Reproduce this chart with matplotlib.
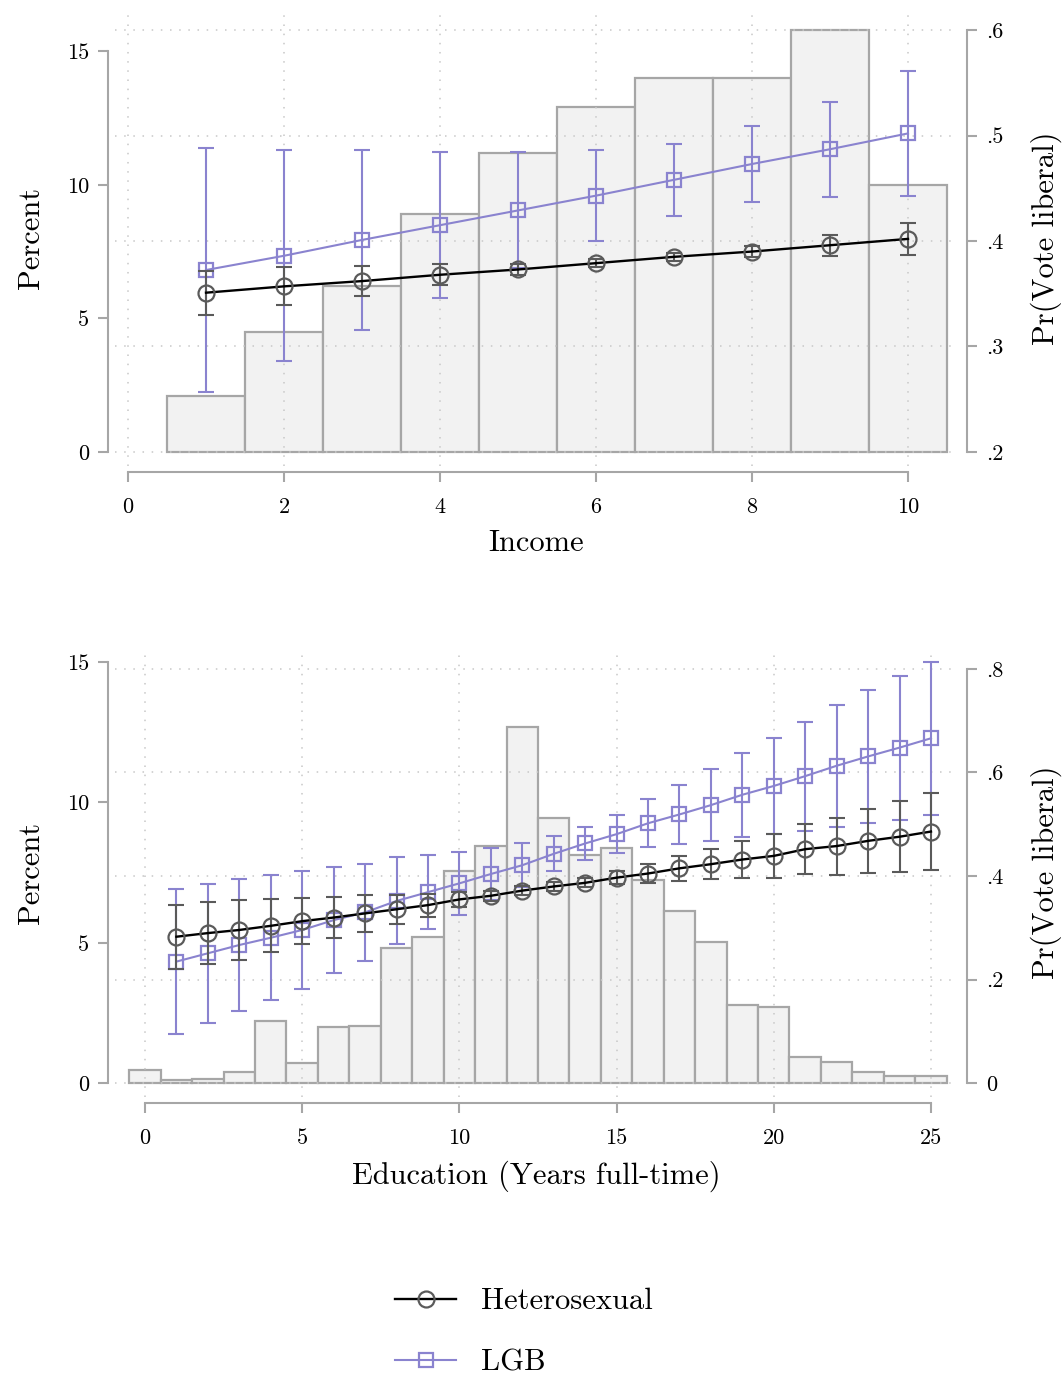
import matplotlib
matplotlib.use('Agg')
import matplotlib.pyplot as plt
from matplotlib.lines import Line2D

plt.rcParams['font.family'] = ['cmr10', 'DejaVu Serif']
plt.rcParams['axes.unicode_minus'] = False
plt.rcParams['mathtext.fontset'] = 'cm'

# income panel: histogram (percent) and predicted Pr(vote liberal) with CI half-widths
income = [1, 2, 3, 4, 5, 6, 7, 8, 9, 10]
income_pct = [2.1, 4.5, 6.2, 8.9, 11.2, 12.9, 14.0, 14.0, 15.8, 10.0]
het_income = [.351, .357, .362, .368, .373, .379, .385, .390, .396, .402]
het_income_ci = [.021, .018, .014, .010, .005, .004, .004, .005, .010, .015]
lgb_income = [.3725, .386, .401, .415, .429, .443, .458, .473, .487, .502]
lgb_income_ci = [.116, .100, .085, .069, .055, .043, .034, .036, .045, .059]

# education panel
educ_bins = list(range(0, 26))
educ_pct = [0.47, 0.10, 0.15, 0.41, 2.22, 0.71, 1.99, 2.05, 4.83, 5.2, 7.57, 8.46, 12.69,
            9.43, 8.12, 8.38, 7.23, 6.13, 5.04, 2.79, 2.7, 0.93, 0.75, 0.39, 0.26, 0.26]
educ = list(range(1, 26))
het_educ = [.283, .290, .296, .304, .313, .320, .328, .336, .344, .355, .362, .372, .380,
            .387, .397, .405, .415, .423, .432, .439, .452, .458, .468, .476, .486]
het_educ_ci = [.062, .060, .057, .051, .044, .039, .035, .028, .022, .015, .010, .008, .008,
               .009, .012, .019, .024, .029, .036, .042, .048, .055, .062, .069, .075]
lgb_educ = [.235, .251, .267, .281, .296, .315, .330, .352, .369, .386, .404, .421, .443,
            .463, .481, .502, .519, .537, .557, .574, .593, .613, .631, .648, .666]
lgb_educ_ci = [.140, .134, .128, .121, .113, .103, .094, .084, .072, .061, .050, .043, .034,
               .032, .037, .046, .057, .069, .081, .093, .105, .118, .129, .139, .148]

axis_grey = '#a6a6a6'
het_col = '#5a5a5a'
lgb_col = '#8a83cf'
grid_col = '#c8c8c8'
bar_fill = '#f2f2f2'

fig = plt.figure(figsize=(10.64, 13.81), dpi=100)


def panel(rect, xb, pct, xs, het, het_ci, lgb, lgb_ci, xlim, ylim_l, ylim_r,
          xticks, rticks, rlabels, xlabel):
    ax = fig.add_axes(rect)
    ax.bar(xb, pct, width=1, color=bar_fill, edgecolor=axis_grey, linewidth=1.6, zorder=1)
    ax.set_xlim(xlim)
    ax.set_ylim(ylim_l)
    ax.set_xticks(xticks)
    ax.set_yticks([0, 5, 10, 15])
    ax.set_yticklabels(['0', '5', '10', '15'])
    ax.grid(axis='x', color=grid_col, linestyle=(0, (1, 5)), linewidth=1.1)
    ax.set_axisbelow(False)
    for s in ['top', 'right']:
        ax.spines[s].set_visible(False)
    ax.spines['left'].set_position(('outward', 5))
    ax.spines['left'].set_bounds(0, 15)
    ax.spines['bottom'].set_position(('outward', 4.3))
    ax.spines['bottom'].set_bounds(xticks[0], xticks[-1])
    for s in ['left', 'bottom']:
        ax.spines[s].set_color(axis_grey)
        ax.spines[s].set_linewidth(1.5)
    ax.tick_params(axis='both', direction='out', length=7.5, width=1.5, color=axis_grey,
                   labelsize=16)
    ax.tick_params(axis='x', pad=11)
    ax.tick_params(axis='y', pad=6)
    ax.set_ylabel('Percent', fontsize=22, labelpad=16)
    ax.set_xlabel(xlabel, fontsize=22, labelpad=9)

    ax2 = ax.twinx()
    ax2.set_ylim(ylim_r)
    ax2.set_yticks(rticks)
    ax2.set_yticklabels(rlabels)
    ax2.grid(axis='y', color=grid_col, linestyle=(0, (1, 5)), linewidth=1.1)
    for s in ['top', 'left', 'bottom']:
        ax2.spines[s].set_visible(False)
    ax2.spines['right'].set_position(('outward', 6.5))
    ax2.spines['right'].set_bounds(rticks[0], rticks[-1])
    ax2.spines['right'].set_color(axis_grey)
    ax2.spines['right'].set_linewidth(1.5)
    ax2.tick_params(axis='y', direction='out', length=7.5, width=1.5, color=axis_grey,
                    labelsize=16, pad=6)
    ax2.set_ylabel('Pr(Vote liberal)', fontsize=22, labelpad=20)

    # LGB first, heterosexual on top
    ax2.errorbar(xs, lgb, yerr=lgb_ci, fmt='none', ecolor=lgb_col, elinewidth=1.5,
                 capsize=5.5, capthick=1.5)
    ax2.plot(xs, lgb, color=lgb_col, lw=1.5, marker='s', ms=10.5, mfc='none',
             mec=lgb_col, mew=1.6)
    ax2.errorbar(xs, het, yerr=het_ci, fmt='none', ecolor=het_col, elinewidth=1.5,
                 capsize=5.5, capthick=1.5)
    ax2.plot(xs, het, color='black', lw=1.7, marker='o', ms=11.5, mfc='none',
             mec=het_col, mew=1.6)
    return ax, ax2


# top: income
panel([115 / 1064, 1 - 466 / 1381, 843 / 1064, 456 / 1381],
      income, income_pct, income, het_income, het_income_ci, lgb_income, lgb_income_ci,
      (-0.167, 10.641), (-0.524, 16.55), (0.1867, 0.619),
      [0, 2, 4, 6, 8, 10], [.2, .3, .4, .5, .6], ['.2', '.3', '.4', '.5', '.6'], 'Income')

# bottom: education
panel([115 / 1064, 1 - 1097 / 1381, 843 / 1064, 449 / 1381],
      educ_bins, educ_pct, educ, het_educ, het_educ_ci, lgb_educ, lgb_educ_ci,
      (-0.954, 25.86), (-0.488, 15.49), (-0.0264, 0.8403),
      [0, 5, 10, 15, 20, 25], [0, .2, .4, .6, .8], ['0', '.2', '.4', '.6', '.8'],
      'Education (Years full-time)')

handles = [
    Line2D([], [], color='black', lw=1.7, marker='o', ms=11.5, mfc='none', mec=het_col, mew=1.6),
    Line2D([], [], color=lgb_col, lw=1.5, marker='s', ms=10.5, mfc='none', mec=lgb_col, mew=1.6),
]
fig.legend(handles, ['Heterosexual', 'LGB'], loc='center left',
           bbox_to_anchor=(395 / 1064, 1 - 1332 / 1381), frameon=False, fontsize=22,
           handlelength=2.0, handletextpad=0.8, labelspacing=1.1, borderpad=0,
           borderaxespad=0)

fig.savefig('out.png', dpi=100)
